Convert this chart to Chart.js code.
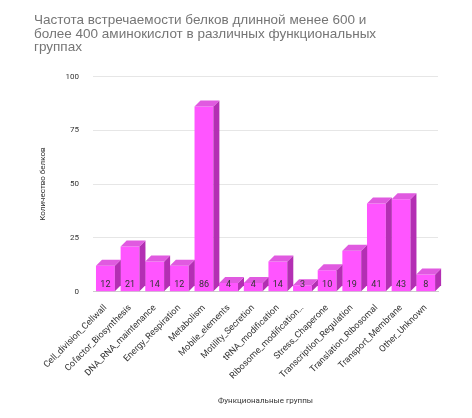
<!DOCTYPE html>
<html>
<head>
<meta charset="utf-8">
<script src="https://cdn.jsdelivr.net/npm/chart.js@4/dist/chart.umd.min.js"></script>
<style>
body { margin: 0; background: #fff; }
#wrap { width: 472px; height: 418px; position: relative; }
</style>
</head>
<body>
<div id="wrap"><canvas id="myChart"></canvas></div>
<script>
"use strict";

var categories = ['Cell_division_Cellwall', 'Cofactor_Biosynthesis', 'DNA_RNA_maintenance', 'Energy_Respiration',
    'Metabolism', 'Mobile_elements', 'Motility_Secretion', 'tRNA_modification', 'Ribosome_modification…',
    'Stress_Chaperone', 'Transcription_Regulation', 'Translation_Ribosomal', 'Transport_Membrane', 'Other_Unknown'];
var counts = [12, 21, 14, 12, 86, 4, 4, 14, 3, 10, 19, 41, 43, 8];
var yTicks = [0, 25, 50, 75, 100];

var DEPTH = 6;

var bar3d = {
    id: 'bar3d',
    afterDatasetsDraw: function (chart) {
        var ctx = chart.ctx;
        var meta = chart.getDatasetMeta(0);
        ctx.save();
        meta.data.forEach(function (bar, i) {
            var l = bar.x - bar.width / 2, r = bar.x + bar.width / 2, t = bar.y, b = bar.base;
            ctx.fillStyle = '#b32fb3';
            ctx.beginPath();
            ctx.moveTo(r, b); ctx.lineTo(r + DEPTH, b - DEPTH); ctx.lineTo(r + DEPTH, t - DEPTH); ctx.lineTo(r, t);
            ctx.closePath(); ctx.fill();
            ctx.fillStyle = '#e05ae0';
            ctx.beginPath();
            ctx.moveTo(l, t); ctx.lineTo(l + DEPTH, t - DEPTH); ctx.lineTo(r + DEPTH, t - DEPTH); ctx.lineTo(r, t);
            ctx.closePath(); ctx.fill();
            ctx.fillStyle = '#333';
            ctx.font = '9px Roboto';
            ctx.textAlign = 'center';
            ctx.textBaseline = 'middle';
            ctx.fillText(counts[i], bar.x, b - 6);
        });
        ctx.restore();
    }
};

new Chart(document.getElementById('myChart'), {
    type: 'bar',
    data: {
        labels: categories,
        datasets: [{
            data: counts,
            backgroundColor: '#ff55ff',
            borderWidth: 0,
            categoryPercentage: 0.9,
            barPercentage: 0.85
        }]
    },
    plugins: [bar3d],
    options: {
        responsive: true,
        maintainAspectRatio: false,
        animation: false,
        layout: { padding: { left: 34, right: 34, top: 6, bottom: 8 } },
        plugins: {
            legend: { display: false },
            tooltip: { enabled: false },
            title: {
                display: true,
                text: ['Частота встречаемости белков длинной менее 600 и', 'более 400 аминокислот в различных функциональных', 'группах'],
                align: 'start',
                color: '#757575',
                font: { family: 'Liberation Sans', size: 13.5, weight: 'normal', lineHeight: 1.0 },
                padding: { top: 8, bottom: 22 }
            }
        },
        scales: {
            y: {
                min: 0, max: 100,
                afterBuildTicks: function (axis) { axis.ticks = yTicks.map(function (v) { return { value: v }; }); },
                grid: { color: '#e6e6e6', drawTicks: false },
                border: { display: false },
                ticks: { color: '#333', font: { family: 'Roboto', size: 8 }, padding: 14 },
                title: { display: true, text: 'Количество белков', color: '#333', font: { family: 'Roboto', size: 8 } }
            },
            x: {
                grid: { display: false },
                border: { color: '#cccccc' },
                ticks: { color: '#333', font: { family: 'Roboto', size: 9 }, maxRotation: 45, minRotation: 45, autoSkip: false },
                title: { display: true, text: 'Функциональные группы', color: '#333', font: { family: 'Roboto', size: 8 }, padding: { top: 12 } }
            }
        }
    }
});
</script>
</body>
</html>
